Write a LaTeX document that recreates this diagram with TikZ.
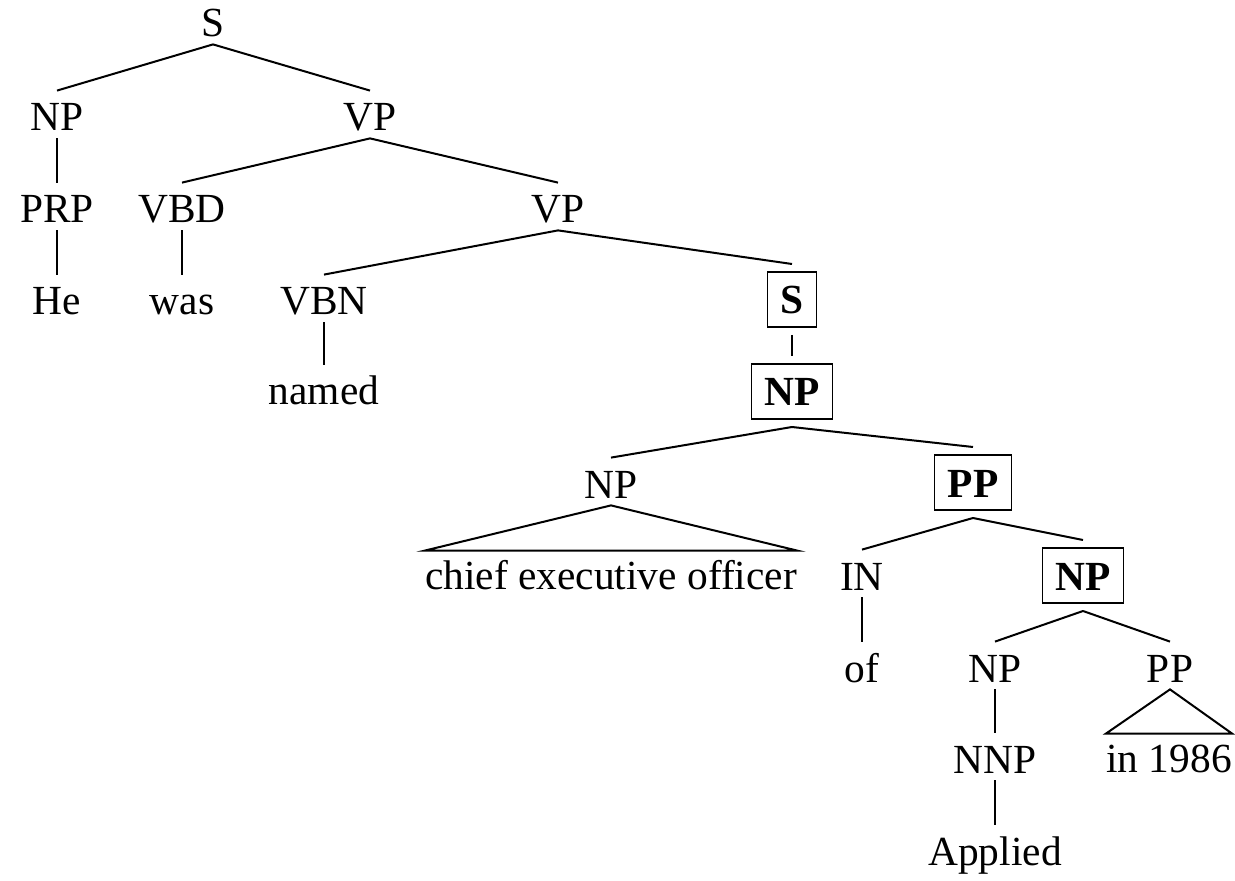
\documentclass[tikz,border=0pt]{standalone}
\usepackage{fontspec}
\setmainfont{Liberation Serif}
\begin{document}
\begin{tikzpicture}[x=0.5pt,y=-0.5pt,
  lab/.style={font=\fontsize{20.7pt}{24pt}\selectfont, inner sep=0pt, text height=20pt, text depth=3.5pt, anchor=base},
  boxlab/.style={font=\fontsize{20.7pt}{24pt}\selectfont\bfseries, draw, line width=0.7pt, inner xsep=6.5pt, inner ysep=0pt, text height=21pt, text depth=6.5pt, outer sep=4pt, anchor=base},
  leaf/.style={lab, text height=19pt},
  edge/.style={line width=1pt}]
\useasboundingbox (0,0) rectangle (1235,881);
% nodes
\node[lab] (S0) at (213,37) {S};
\node[lab] (NP1) at (57,131) {NP};
\node[lab] (VP1) at (370,131) {VP};
\node[lab] (PRP) at (57,223) {PRP};
\node[lab] (VBD) at (182,223) {VBD};
\node[lab] (VP2) at (558,223) {VP};
\node[lab] (He) at (57,315) {He};
\node[lab] (was) at (182,315) {was};
\node[lab] (VBN) at (324,315) {VBN};
\node[boxlab] (Sb) at (792,314) {S};
\node[lab] (named) at (324,405) {named};
\node[boxlab] (NPb) at (792,406) {NP};
\node[lab] (NP3) at (611,498) {NP};
\node[boxlab] (PPb) at (973,497) {PP};
\node[leaf] (chief) at (611,589) {chief executive officer};
\node[lab] (IN) at (862,590) {IN};
\node[boxlab] (NPb2) at (1083,590) {NP};
\node[lab] (of) at (862,682) {of};
\node[lab] (NP4) at (995,682) {NP};
\node[lab] (PP4) at (1170,682) {PP};
\node[lab] (NNP) at (995,773) {NNP};
\node[leaf] (in1986) at (1169,772) {in 1986};
\node[lab] (Applied) at (995,865) {Applied};
% edges
\draw[edge] (S0.south) -- (NP1.north);
\draw[edge] (S0.south) -- (VP1.north);
\draw[edge] (NP1.south) -- (PRP.north);
\draw[edge] (PRP.south) -- (He.north);
\draw[edge] (VP1.south) -- (VBD.north);
\draw[edge] (VP1.south) -- (VP2.north);
\draw[edge] (VBD.south) -- (was.north);
\draw[edge] (VP2.south) -- (VBN.north);
\draw[edge] (VP2.south) -- (Sb.north);
\draw[edge] (VBN.south) -- (named.north);
\draw[edge] (Sb.south) -- (NPb.north);
\draw[edge] (NPb.south) -- (NP3.north);
\draw[edge] (NPb.south) -- (PPb.north);
\draw[edge] (NP3.south) -- (chief.north west) -- (chief.north east) -- cycle;
\draw[edge] (PPb.south) -- (IN.north);
\draw[edge] (PPb.south) -- (NPb2.north);
\draw[edge] (IN.south) -- (of.north);
\draw[edge] (NPb2.south) -- (NP4.north);
\draw[edge] (NPb2.south) -- (PP4.north);
\draw[edge] (NP4.south) -- (NNP.north);
\draw[edge] (NNP.south) -- (Applied.north);
\draw[edge] (PP4.south) -- (in1986.north west) -- (in1986.north east) -- cycle;
\end{tikzpicture}
\end{document}
